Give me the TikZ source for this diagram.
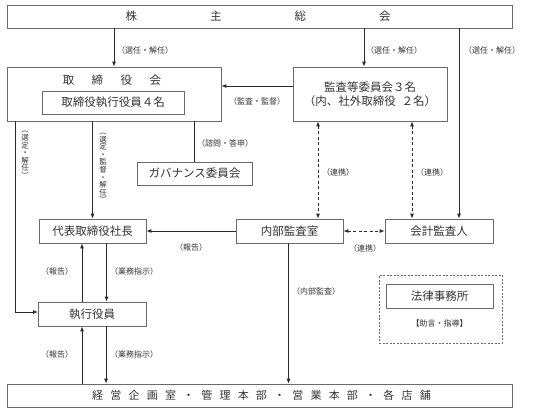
\documentclass[tikz,border=0pt]{standalone}
\usepackage{fontspec}
\setmainfont{Noto Sans CJK JP}
\usetikzlibrary{arrows.meta}
\definecolor{boxc}{HTML}{6A6A6A}
\definecolor{linec}{HTML}{2A2A2A}
\definecolor{txtc}{HTML}{333333}
\newcommand{\gapA}{\hspace{7.2pt}}
\newcommand{\gapB}{\hspace{73pt}}
\newcommand{\gapC}{\hspace{17.5pt}}
\begin{document}
\begin{tikzpicture}[x=1pt,y=-1pt,
  box/.style={draw=boxc, line width=0.7pt, inner sep=0pt, font=\fontsize{11.5}{13.5}\selectfont, text=txtc, align=center},
  lbl/.style={font=\fontsize{8}{9}\selectfont, text=txtc, inner sep=0pt},
  vlbl/.style={font=\fontsize{7.5}{7.6}\selectfont, text=txtc, inner sep=0pt, align=center},
  arr/.style={draw=linec, line width=0.9pt, -{Latex[length=5pt,width=4pt]}},
  ln/.style={draw=linec, line width=0.9pt},
  darr/.style={draw=linec, line width=0.9pt, dash pattern=on 3pt off 2.5pt, {Latex[length=5pt,width=4pt]}-{Latex[length=5pt,width=4pt]}},
]
\fill[white] (0,0) rectangle (534,414);
\useasboundingbox (0,0) rectangle (534,414);

% nodes
\node[box, minimum width=505pt, minimum height=23pt] (agm) at (259.5,16.5) {};
\node[font=\fontsize{11.5}{13}\selectfont, text=txtc, inner sep=0pt] (agmt) at (258,16.5) {株\gapB 主\gapB 総\gapB 会};

\node[box, minimum width=214pt, minimum height=54pt] (board) at (114,94) {};
\node[font=\fontsize{11.5}{13}\selectfont, text=txtc, inner sep=0pt] (boardt) at (112,80) {取\gapC 締\gapC 役\gapC 会};
\node[box, minimum width=142pt, minimum height=23pt] (exec4) at (113,102.5) {取締役執行役員４名};

\node[box, minimum width=154pt, minimum height=54pt] (audit) at (370,94) {監査等委員会３名\\（内、社外取締役\hspace{0.5em}２名）};

\node[box, minimum width=115pt, minimum height=23pt] (gov) at (194.5,173.5) {ガバナンス委員会};

\node[box, minimum width=107pt, minimum height=24pt] (pres) at (92.5,231) {代表取締役社長};
\node[box, minimum width=107pt, minimum height=24pt] (internal) at (289.5,231) {内部監査室};
\node[box, minimum width=108pt, minimum height=24pt] (auditor) at (439,231) {会計監査人};

\node[box, minimum width=108pt, minimum height=24pt] (exec) at (92,314) {執行役員};
\coordinate (ebend) at (38,312);

\node[box, minimum width=505pt, minimum height=23pt] (bottom) at (259.5,395.5) {};
\node[font=\fontsize{11}{13}\selectfont, text=txtc, inner sep=0pt] (bottomt) at (261.5,395.5) {経\gapA 営\gapA 企\gapA 画\gapA 室\gapA ・\gapA 管\gapA 理\gapA 本\gapA 部\gapA ・\gapA 営\gapA 業\gapA 本\gapA 部\gapA ・\gapA 各\gapA 店\gapA 舗};

\node[draw=boxc, line width=0.6pt, dash pattern=on 2pt off 1.5pt, minimum width=123pt, minimum height=68pt, inner sep=0pt] (lawbox) at (440.5,309) {};
\node[box, minimum width=107pt, minimum height=24pt] (law) at (439.5,296) {法律事務所};
\node[lbl] (lawl) at (439.5,323) {【助言・指導】};

% connectors
\draw[arr] (agm.south -| board.north) -- (board.north);
\draw[arr] ([xshift=-6pt]audit.north |- agm.south) -- ([xshift=-6pt]audit.north);
\draw[arr] ([xshift=20pt]auditor.north |- agm.south) -- ([xshift=20pt]auditor.north);
\draw[arr] ([yshift=8pt]audit.west) -- ([yshift=8pt]audit.west -| board.east);

\draw[arr] ([xshift=9pt]board.south west) -- ([xshift=9pt]board.south west |- ebend) -- (ebend);
\draw[arr] (board.south -| pres.north) -- (pres.north);
\draw[ln] (board.south -| gov.north) -- (gov.north);

\draw[arr] (internal.west) -- (pres.east);
\draw[darr] (internal.east) -- (auditor.west);
\draw[darr] ([xshift=28.5pt]internal.north |- audit.south) -- ([xshift=28.5pt]internal.north);
\draw[darr] ([xshift=-27pt]auditor.north |- audit.south) -- ([xshift=-27pt]auditor.north);
\draw[arr] ([xshift=-1pt]internal.south) -- ([xshift=-1pt]internal.south |- bottom.north);

\draw[arr] ([xshift=-10pt]exec.north) -- ([xshift=-10pt]exec.north |- pres.south);
\draw[arr] ([xshift=14pt]pres.south) -- ([xshift=14pt]pres.south |- exec.north);
\draw[arr] ([xshift=-10pt]exec.south |- bottom.north) -- ([xshift=-10pt]exec.south);
\draw[arr] ([xshift=14pt]exec.south) -- ([xshift=14pt]exec.south |- bottom.north);

% labels
\node[lbl] (l1) at (145,50) {（選任・解任）};
\node[lbl] (l2) at (394,50) {（選任・解任）};
\node[lbl] (l3) at (492,50) {（選任・解任）};
\node[lbl] (l4) at (257,101) {（監査・監督）};
\node[lbl] (l5) at (225,143) {（諮問・答申）};
\node[vlbl] (l6) at (25,155) {︵\\選\\定\\・\\解\\任\\︶};
\node[vlbl] (l7) at (103,168) {︵\\選\\定\\・\\監\\督\\・\\解\\任\\︶};
\node[lbl] (l8) at (338,172) {（連携）};
\node[lbl] (l9) at (432,172) {（連携）};
\node[lbl] (l10) at (191,247) {（報告）};
\node[lbl] (l11) at (365,248) {（連携）};
\node[lbl] (l12) at (57,271) {（報告）};
\node[lbl] (l13) at (134,271) {（業務指示）};
\node[lbl] (l14) at (316,291) {（内部監査）};
\node[lbl] (l15) at (57,354) {（報告）};
\node[lbl] (l16) at (134,354) {（業務指示）};
\end{tikzpicture}
\end{document}
